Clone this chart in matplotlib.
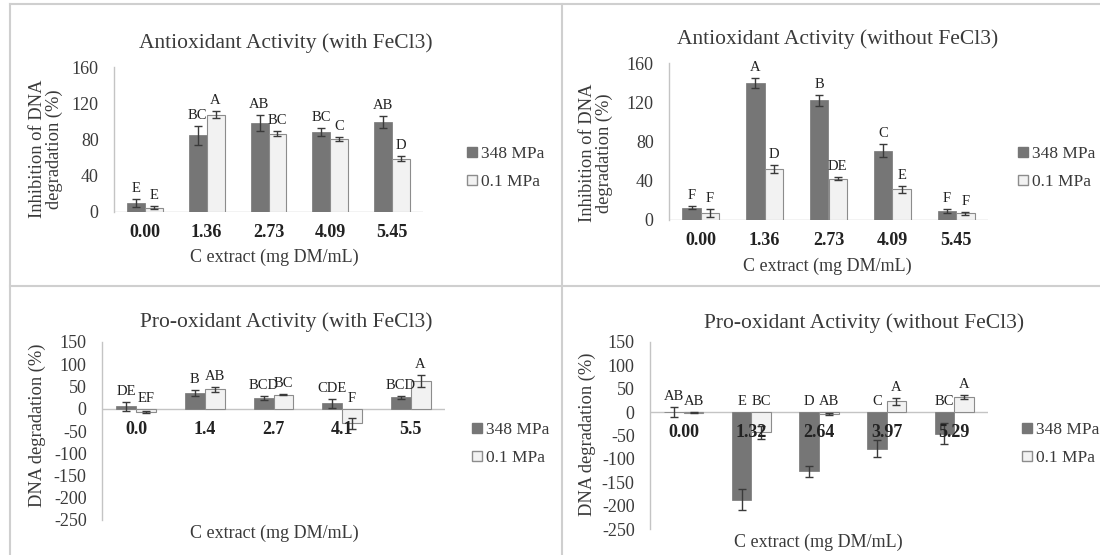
import matplotlib

matplotlib.use("Agg")
import matplotlib.pyplot as plt
from matplotlib.lines import Line2D
from matplotlib.patches import Patch

plt.rcParams["font.family"] = ["Liberation Serif", "DejaVu Serif"]
plt.rcParams["axes.unicode_minus"] = False

W, H = 1100, 555

# ---- data ----
series_names = ["348 MPa", "0.1 MPa"]

ax1_ticks = ["0.00", "1.36", "2.73", "4.09", "5.45"]
ax1_hp = [10.3, 84.8, 98.0, 88.4, 99.8]
ax1_hp_err = [4.4, 10.6, 9.0, 4.0, 6.6]
ax1_lp = [4.8, 107.5, 86.6, 80.7, 59.0]
ax1_lp_err = [2.0, 3.7, 3.0, 2.5, 3.0]
ax1_hp_letters = ["E", "BC", "AB", "BC", "AB"]
ax1_lp_letters = ["E", "A", "BC", "C", "D"]

ax2_ticks = ["0.00", "1.36", "2.73", "4.09", "5.45"]
ax2_hp = [12.6, 139.6, 121.9, 70.8, 9.2]
ax2_hp_err = [1.5, 5.4, 5.4, 6.8, 2.5]
ax2_lp = [7.5, 52.0, 41.9, 31.3, 6.8]
ax2_lp_err = [4.0, 4.4, 1.5, 3.7, 1.5]
ax2_hp_letters = ["F", "A", "B", "C", "F"]
ax2_lp_letters = ["F", "D", "DE", "E", "F"]

ax3_ticks = ["0.0", "1.4", "2.7", "4.1", "5.5"]
ax3_hp = [5.2, 35.9, 24.7, 12.7, 25.4]
ax3_hp_err = [10.0, 7.0, 5.0, 10.0, 3.0]
ax3_lp = [-7.5, 44.0, 32.0, -33.0, 62.0]
ax3_lp_err = [2.0, 6.0, 2.0, 12.0, 14.0]
ax3_hp_letters = ["DE", "B", "BCD", "CDE", "BCD"]
ax3_lp_letters = ["EF", "AB", "BC", "F", "A"]

ax4_ticks = ["0.00", "1.32", "2.64", "3.97", "5.29"]
ax4_hp = [0.5, -187.0, -127.0, -78.0, -46.0]
ax4_hp_err = [10.0, 23.0, 11.0, 19.0, 22.0]
ax4_lp = [-1.0, -43.0, -4.0, 22.8, 33.0]
ax4_lp_err = [1.5, 14.0, 1.5, 7.0, 4.0]
ax4_hp_letters = ["AB", "E", "D", "C", "BC"]
ax4_lp_letters = ["AB", "BC", "AB", "A", "A"]

DARK = "#767676"
LIGHT = "#f2f2f2"
LIGHT_EDGE = "#8c8c8c"
ERR = "#3a3a3a"
AXIS = "#c4c4c4"
TEXT = "#3a3a3a"


def fx(x):
    return x / W


def fy(y):
    return 1 - y / H


def make_axes(fig, left, right, top, bottom):
    return fig.add_axes([fx(left), fy(bottom), (right - left) / W, (bottom - top) / H])


def draw_panel(fig, box, ylim, yticks, ticks, hp, hp_err, lp, lp_err, hp_let, lp_let,
               title, title_xy, ylabel, ylabel_xy, xlabel, xlabel_xy, legend_xy, tick_pad):
    ax = make_axes(fig, *box)
    n = len(ticks)
    xs = list(range(n))
    w = 0.29
    err_kw = dict(ecolor=ERR, elinewidth=1, capsize=3, capthick=1)
    ax.bar([x - w / 2 for x in xs], hp, w, color=DARK, edgecolor=DARK, linewidth=0.5,
           yerr=hp_err, error_kw=err_kw, zorder=2)
    ax.bar([x + w / 2 for x in xs], lp, w, color=LIGHT, edgecolor=LIGHT_EDGE, linewidth=0.8,
           yerr=lp_err, error_kw=err_kw, zorder=2)
    for x, v, e, t in zip(xs, hp, hp_err, hp_let):
        ax.annotate(t, (x - w / 2, max(v + e, 0)), xytext=(0, 5), textcoords="offset points",
                    ha="center", va="baseline", fontsize=10.5, color="#222222")
    for x, v, e, t in zip(xs, lp, lp_err, lp_let):
        ax.annotate(t, (x + w / 2, max(v + e, 0)), xytext=(0, 5), textcoords="offset points",
                    ha="center", va="baseline", fontsize=10.5, color="#222222")
    for x, t in zip(xs, ticks):
        ax.annotate(t, (x, 0), xytext=(0, -tick_pad), textcoords="offset points",
                    ha="center", va="center", fontsize=13, fontweight="bold",
                    color="#222222", zorder=5)
    ax.set_xlim(-0.5, n - 0.5)
    ax.set_ylim(*ylim)
    ax.set_yticks(yticks)
    ax.set_xticks([])
    ax.tick_params(axis="y", length=0, labelsize=13, labelcolor=TEXT, pad=11)
    for side in ("top", "right", "bottom"):
        ax.spines[side].set_visible(False)
    ax.spines["left"].set_color(AXIS)
    ax.spines["left"].set_linewidth(1)
    ax.axhline(0, color=AXIS, linewidth=1, zorder=1)
    ax.patch.set_alpha(0)

    fig.text(fx(title_xy[0]), fy(title_xy[1]), title, ha="center", va="center",
             fontsize=15.5, color=TEXT)
    fig.text(fx(ylabel_xy[0]), fy(ylabel_xy[1]), ylabel, ha="center", va="center",
             rotation=90, fontsize=13.3, color=TEXT, linespacing=1.05)
    fig.text(fx(xlabel_xy[0]), fy(xlabel_xy[1]), xlabel, ha="center", va="center",
             fontsize=13, color=TEXT)
    handles = [Patch(facecolor=DARK, edgecolor=DARK),
               Patch(facecolor=LIGHT, edgecolor=LIGHT_EDGE)]
    fig.legend(handles, series_names, loc="center left",
               bbox_to_anchor=(fx(legend_xy[0]), fy(legend_xy[1])),
               frameon=False, fontsize=12.5, handlelength=0.55, handleheight=0.55,
               handletextpad=0.25, labelspacing=0.7, borderpad=0, borderaxespad=0,
               labelcolor=TEXT)
    return ax


fig = plt.figure(figsize=(W / 100, H / 100), dpi=100)
fig.patch.set_facecolor("white")

# panel separators
line_kw = dict(color="#cfcfcf", linewidth=1.5)
fig.add_artist(Line2D([fx(10), fx(10)], [fy(4), fy(555)], **line_kw))
fig.add_artist(Line2D([fx(562), fx(562)], [fy(4), fy(555)], **line_kw))
fig.add_artist(Line2D([fx(10), fx(1100)], [fy(4), fy(4)], **line_kw))
fig.add_artist(Line2D([fx(10), fx(1100)], [fy(286), fy(286)], **line_kw))

xlab = "C extract (mg DM/mL)"
anti_y = "Inhibition of DNA\ndegradation (%)"
pro_y = "DNA degradation (%)"

draw_panel(fig, (114, 423, 67, 212), (0, 160), [0, 40, 80, 120, 160], ax1_ticks,
           ax1_hp, ax1_hp_err, ax1_lp, ax1_lp_err, ax1_hp_letters, ax1_lp_letters,
           "Antioxidant Activity (with FeCl3)", (286, 43), anti_y, (46, 149),
           xlab, (274, 257), (467, 168), 15)

draw_panel(fig, (669, 988, 63, 220), (0, 160), [0, 40, 80, 120, 160], ax2_ticks,
           ax2_hp, ax2_hp_err, ax2_lp, ax2_lp_err, ax2_hp_letters, ax2_lp_letters,
           "Antioxidant Activity (without FeCl3)", (838, 39), anti_y, (596, 153),
           xlab, (827, 266), (1018, 168), 14.5)

draw_panel(fig, (102, 445, 342, 520), (-250, 150), list(range(-250, 151, 50)), ax3_ticks,
           ax3_hp, ax3_hp_err, ax3_lp, ax3_lp_err, ax3_hp_letters, ax3_lp_letters,
           "Pro-oxidant Activity (with FeCl3)", (286, 322), pro_y, (37, 425),
           xlab, (274, 533), (472, 444), 15)

draw_panel(fig, (650, 988, 342, 529), (-250, 150), list(range(-250, 151, 50)), ax4_ticks,
           ax4_hp, ax4_hp_err, ax4_lp, ax4_lp_err, ax4_hp_letters, ax4_lp_letters,
           "Pro-oxidant Activity (without FeCl3)", (864, 323), pro_y, (587, 434),
           xlab, (818, 542), (1022, 444), 14.5)

fig.savefig("out.png", dpi=100)
